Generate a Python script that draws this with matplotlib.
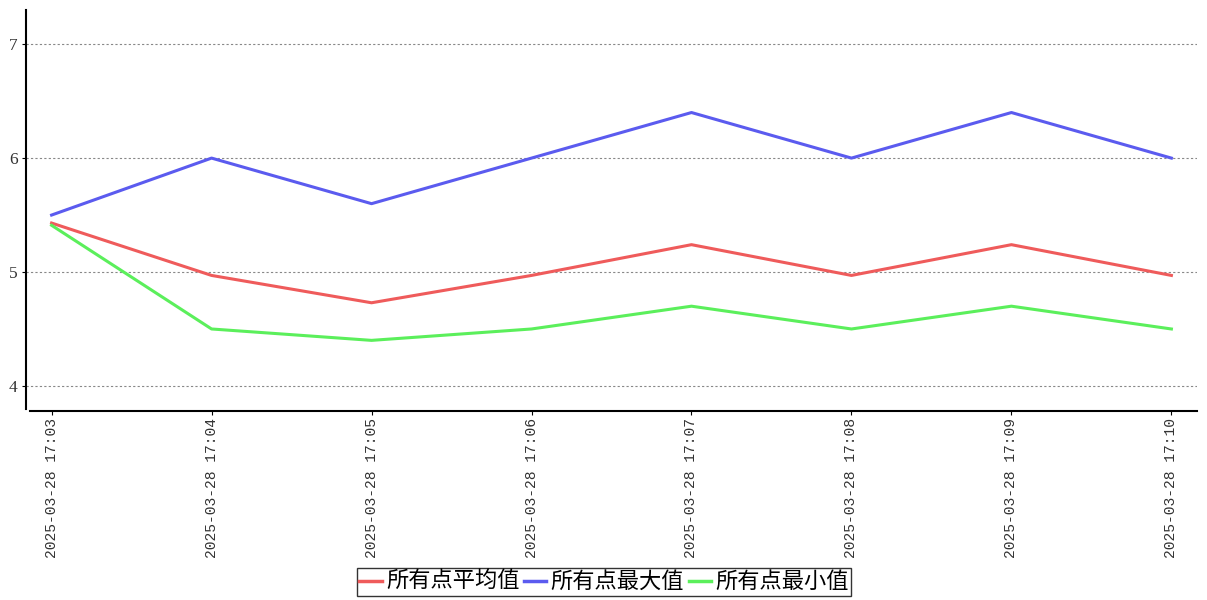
import matplotlib
matplotlib.use("Agg")
import matplotlib.pyplot as plt

plt.rcParams['font.family'] = ['Noto Sans CJK SC', 'DejaVu Sans']

times = ["2025-03-28 17:03", "2025-03-28 17:04", "2025-03-28 17:05", "2025-03-28 17:06",
         "2025-03-28 17:07", "2025-03-28 17:08", "2025-03-28 17:09", "2025-03-28 17:10"]
avg_vals = [5.43, 4.97, 4.73, 4.97, 5.24, 4.97, 5.24, 4.97]
max_vals = [5.5, 6.0, 5.6, 6.0, 6.4, 6.0, 6.4, 6.0]
min_vals = [5.41, 4.5, 4.4, 4.5, 4.7, 4.5, 4.7, 4.5]
series_names = ["所有点平均值", "所有点最大值", "所有点最小值"]
y_ticks = [4, 5, 6, 7]

fig = plt.figure(figsize=(12.07, 6.0), dpi=100)
ax = fig.add_axes([26/1207, 189/600, (1197-26)/1207, (411-10)/600])

x = list(range(len(times)))
ax.plot(x, avg_vals, color="#ef5b5b", lw=2.2, label=series_names[0])
ax.plot(x, max_vals, color="#5b5bef", lw=2.2, label=series_names[1])
ax.plot(x, min_vals, color="#5bef5b", lw=2.2, label=series_names[2])

ax.set_xlim(-0.16, 7.16)
ax.set_ylim(3.78, 7.3)
ax.set_yticks(y_ticks)
ax.set_yticklabels([str(v) for v in y_ticks], family=["Liberation Serif"], fontsize=12.5, color="#333333")
ax.set_xticks(x)
ax.set_xticklabels(times, rotation=90, family=["Liberation Mono"], fontsize=10.5, color="#333333")
ax.tick_params(axis='x', length=3, width=0.8, pad=2)
ax.tick_params(axis='y', length=3, width=0.8, pad=3)
ax.grid(axis='y', linestyle=(0, (2, 2)), color="#888888", lw=0.8)
ax.set_axisbelow(True)
for s in ["top", "right"]:
    ax.spines[s].set_visible(False)
ax.spines["left"].set_linewidth(1.5)
ax.spines["bottom"].set_linewidth(1.5)
ax.spines["left"].set_bounds(3.80, 7.3)
ax.spines["bottom"].set_bounds(-0.135, 7.16)

leg = fig.legend(loc="lower center", bbox_to_anchor=(604/1207, 0.0), ncol=3, fontsize=16,
                 frameon=True, fancybox=False, edgecolor="black", handlelength=1.0,
                 handletextpad=0.2, columnspacing=0.2, borderpad=0.1, borderaxespad=0.2)
leg.get_frame().set_linewidth(1.0)
for line in leg.get_lines():
    line.set_linewidth(2.5)

fig.savefig("out.png", dpi=100)
